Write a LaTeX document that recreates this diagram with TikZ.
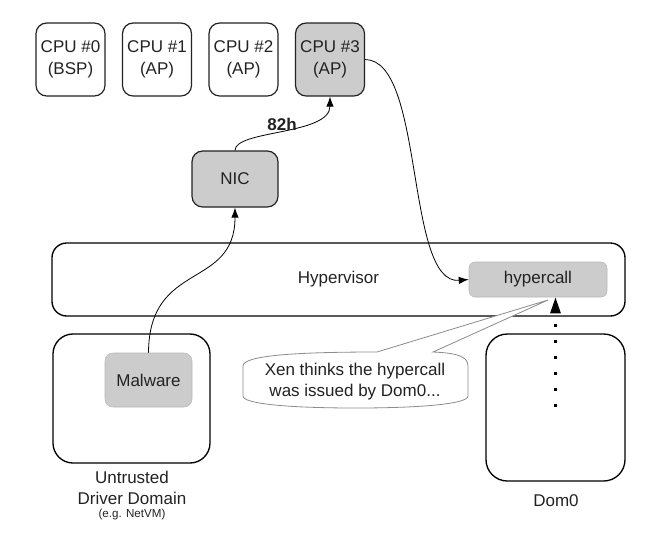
\documentclass[tikz,border=0pt]{standalone}
\usepackage{fontspec}
\setmainfont{Liberation Sans}
\usetikzlibrary{arrows.meta,calc}
\definecolor{boxgray}{HTML}{CCCCCC}
\definecolor{txt}{HTML}{222222}
\definecolor{edge}{HTML}{222222}
\definecolor{bubble}{HTML}{8C8C8C}
\begin{document}
\begin{tikzpicture}[x=0.75pt,y=-0.75pt,
  every node/.style={font=\fontsize{12.75}{16.5}\selectfont, text=txt, inner sep=0pt},
  cpubox/.style={draw=edge, line width=0.9pt, rounded corners=8pt, align=center,
     minimum width=51.75pt, minimum height=54.75pt},
  graybox/.style={fill=boxgray},
  softbox/.style={fill=boxgray, draw=boxgray!90!black, line width=0.4pt},
  bigbox/.style={draw=black, line width=1pt},
  link/.style={draw=black, line width=0.6pt, -{Latex[length=7.5pt,width=5.5pt]}},
  lbl/.style={align=center}
]
\useasboundingbox (0,0) rectangle (660,537);
% CPUs
\node[cpubox] (cpu0) at (70.5,59.5) {CPU \#0\\(BSP)};
\node[cpubox] (cpu1) at (157,59.5) {CPU \#1\\(AP)};
\node[cpubox] (cpu2) at (243.5,59.5) {CPU \#2\\(AP)};
\node[cpubox, graybox] (cpu3) at (330,59.5) {CPU \#3\\(AP)};
% NIC
\node[cpubox, graybox, minimum width=64.5pt, minimum height=42pt] (nic) at (235,179) {NIC};
% Hypervisor
\node[bigbox, rounded corners=11pt, minimum width=429.75pt, minimum height=54.75pt] (hyp) at (338.5,279.5) {Hypervisor};
\node[softbox, rounded corners=4.5pt, minimum width=103.5pt, minimum height=26.25pt] (hcall) at (538,279.5) {hypercall};
% Domains
\node[bigbox, rounded corners=16pt, minimum width=104.25pt, minimum height=110.25pt] (dom0) at (555.5,407.5) {};
\node at (556,501) (dom0lbl) {Dom0};
\node[bigbox, rounded corners=15pt, minimum width=117.75pt, minimum height=96.75pt] (drv) at (131.5,398.5) {};
\node[softbox, rounded corners=6pt, minimum width=65.25pt, minimum height=40.5pt] (mal) at (148.5,380) {Malware};
\node at (132,477) (l1) {Untrusted};
\node at (132,498) (l2) {Driver Domain};
\node[font=\fontsize{8.7}{10}\selectfont] at (132,514) (l3) {(e.g. NetVM)};
% Arrows
\draw[link] (mal.north) .. controls (149,260) and (235,290) .. (nic.south);
\draw[link] (nic.north) .. controls (235,130) and (330,135) .. (cpu3.south);
\node[font=\bfseries\fontsize{12.75}{15}\selectfont] (lab82) at (282,124) {82h};
\draw[link] (cpu3.east) .. controls (425,60) and (405,285) .. (hcall.west);
\coordinate (dotstart) at (555.5,407);
\draw[black, line width=2pt, dash pattern=on 2pt off 10pt, -{Triangle[length=12pt,width=7.5pt]}]
  (dotstart) -- (dom0.north |- hcall.south);
% Bubble
\draw[bubble, line width=0.6pt, fill=white]
  (377,352) -- (548,300) -- (433,352)
  .. controls (456,353) and (468,356) .. (468,366) -- (468,396)
  .. controls (468,404) and (420,408) .. (356,408)
  .. controls (290,408) and (243,404) .. (243,396) -- (243,366)
  .. controls (243,356) and (290,352) .. (377,352) -- cycle;
\node[lbl, font=\fontsize{12.75}{15.75}\selectfont] (btxt) at (355,382) {Xen thinks the hypercall\\was issued by Dom0...};
\end{tikzpicture}
\end{document}
